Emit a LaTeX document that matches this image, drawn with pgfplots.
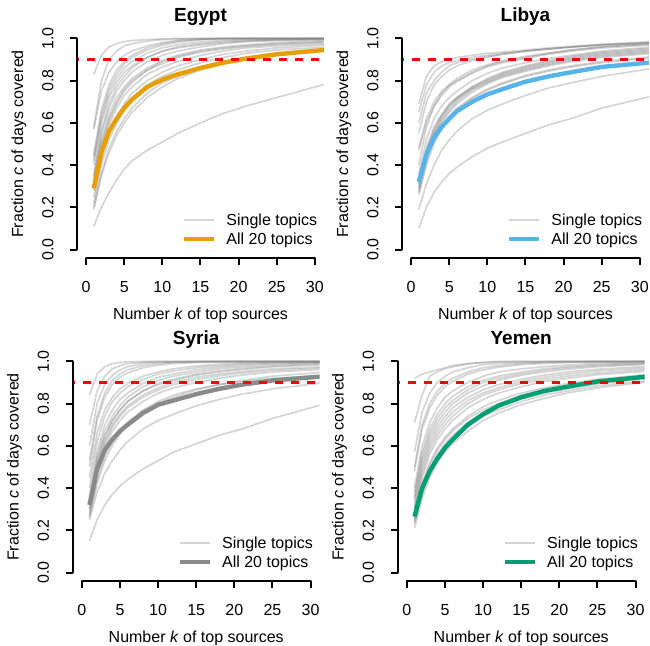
\documentclass[border=0pt]{standalone}
\usepackage{fontspec}
\setmainfont{Liberation Sans}
\usepackage{pgfplots}
\usepackage{pgfplotstable}
\pgfplotsset{compat=1.18}
\definecolor{cEgy}{HTML}{E69F00}
\definecolor{cLib}{HTML}{56B4E9}
\definecolor{cSyr}{HTML}{8A8A8A}
\definecolor{cYem}{HTML}{009E73}

\pgfplotstableread{
id 1 2 3 4 5 6 8 10 12 15 18 21 25 32
g1 0.83 0.92 0.96 0.975 0.985 0.99 0.995 0.998 1 1 1 1 1 1
g2 0.58 0.80 0.90 0.94 0.965 0.975 0.988 0.994 0.997 1 1 1 1 1
g3 0.45 0.66 0.78 0.85 0.89 0.92 0.955 0.975 0.988 0.996 1 1 1 1
g4 0.44 0.64 0.76 0.83 0.88 0.91 0.945 0.968 0.982 0.993 0.998 1 1 1
g5 0.40 0.60 0.72 0.79 0.84 0.87 0.91 0.94 0.96 0.975 0.985 0.99 0.995 1
g6 0.35 0.55 0.67 0.75 0.80 0.84 0.89 0.92 0.94 0.96 0.975 0.985 0.99 0.995
g7 0.33 0.52 0.64 0.72 0.77 0.81 0.86 0.895 0.92 0.945 0.96 0.97 0.98 0.99
g8 0.30 0.50 0.62 0.70 0.76 0.80 0.85 0.88 0.91 0.935 0.95 0.962 0.972 0.982
g9 0.28 0.47 0.59 0.67 0.73 0.77 0.83 0.865 0.89 0.92 0.94 0.955 0.965 0.975
g10 0.25 0.43 0.55 0.63 0.69 0.74 0.80 0.84 0.87 0.90 0.925 0.94 0.955 0.97
g11 0.22 0.40 0.52 0.60 0.66 0.71 0.78 0.82 0.85 0.885 0.91 0.93 0.945 0.96
g12 0.20 0.36 0.48 0.56 0.62 0.67 0.74 0.79 0.82 0.86 0.885 0.905 0.925 0.945
g13 0.19 0.35 0.46 0.54 0.60 0.65 0.72 0.77 0.81 0.85 0.88 0.90 0.92 0.945
g14 0.11 0.20 0.27 0.33 0.38 0.42 0.47 0.51 0.55 0.60 0.645 0.68 0.72 0.79
g15 0.57 0.75 0.84 0.89 0.92 0.94 0.965 0.98 0.99 0.997 1 1 1 1
g16 0.35 0.56 0.69 0.77 0.82 0.86 0.91 0.94 0.955 0.97 0.98 0.987 0.992 0.996
g17 0.42 0.62 0.74 0.81 0.86 0.89 0.93 0.955 0.97 0.983 0.99 0.995 0.998 1
g18 0.30 0.49 0.61 0.69 0.75 0.79 0.85 0.89 0.915 0.94 0.955 0.965 0.975 0.985
m 0.29 0.46 0.56 0.62 0.67 0.71 0.77 0.805 0.83 0.86 0.885 0.905 0.925 0.948
}\rawEgy
\pgfplotstableread{
id 1 2 3 4 5 6 8 10 12 15 18 21 25 32
g1 0.69 0.82 0.87 0.89 0.90 0.91 0.92 0.93 0.935 0.945 0.955 0.962 0.972 0.985
g2 0.65 0.78 0.84 0.87 0.885 0.895 0.91 0.92 0.93 0.94 0.95 0.958 0.968 0.98
g3 0.60 0.74 0.80 0.84 0.87 0.885 0.90 0.915 0.925 0.94 0.95 0.96 0.97 0.982
g4 0.48 0.62 0.70 0.75 0.78 0.80 0.84 0.87 0.89 0.91 0.93 0.945 0.96 0.975
g5 0.47 0.60 0.68 0.73 0.77 0.795 0.835 0.865 0.885 0.905 0.925 0.94 0.955 0.97
g6 0.33 0.48 0.58 0.64 0.69 0.72 0.77 0.81 0.84 0.87 0.895 0.915 0.935 0.955
g7 0.31 0.46 0.56 0.63 0.68 0.715 0.765 0.80 0.83 0.86 0.885 0.905 0.925 0.945
g8 0.30 0.45 0.55 0.62 0.67 0.71 0.76 0.795 0.825 0.855 0.88 0.90 0.92 0.94
g9 0.29 0.44 0.54 0.61 0.66 0.70 0.755 0.79 0.82 0.85 0.875 0.895 0.915 0.935
g10 0.28 0.43 0.53 0.60 0.65 0.69 0.745 0.785 0.815 0.845 0.87 0.89 0.91 0.93
g11 0.27 0.42 0.52 0.58 0.63 0.67 0.72 0.76 0.79 0.825 0.85 0.87 0.89 0.915
g12 0.19 0.31 0.40 0.47 0.52 0.56 0.62 0.66 0.69 0.73 0.765 0.79 0.82 0.86
g13 0.10 0.20 0.27 0.32 0.36 0.39 0.44 0.48 0.51 0.55 0.59 0.62 0.67 0.73
g14 0.40 0.58 0.68 0.74 0.78 0.81 0.85 0.875 0.895 0.915 0.93 0.945 0.96 0.975
g15 0.36 0.52 0.62 0.68 0.72 0.75 0.80 0.835 0.86 0.885 0.905 0.92 0.94 0.96
g16 0.55 0.70 0.78 0.82 0.85 0.87 0.895 0.91 0.925 0.94 0.95 0.96 0.97 0.98
g17 0.32 0.47 0.57 0.635 0.685 0.72 0.77 0.805 0.835 0.865 0.89 0.91 0.93 0.95
g18 0.26 0.40 0.50 0.57 0.62 0.66 0.715 0.755 0.785 0.82 0.845 0.865 0.885 0.91
m 0.32 0.45 0.53 0.58 0.62 0.655 0.70 0.735 0.76 0.795 0.82 0.84 0.865 0.888
}\rawLib
\pgfplotstableread{
id 1 2 3 4 5 6 8 10 12 15 18 21 25 32
g1 0.84 0.94 0.975 0.99 0.995 0.998 1 1 1 1 1 1 1 1
g2 0.70 0.86 0.93 0.965 0.98 0.99 0.996 1 1 1 1 1 1 1
g3 0.60 0.80 0.89 0.935 0.96 0.975 0.99 0.995 0.998 1 1 1 1 1
g4 0.53 0.74 0.85 0.91 0.94 0.96 0.98 0.99 0.995 0.998 1 1 1 1
g5 0.45 0.66 0.77 0.83 0.87 0.895 0.93 0.95 0.965 0.978 0.987 0.993 0.997 1
g6 0.40 0.62 0.74 0.81 0.85 0.88 0.915 0.94 0.955 0.97 0.98 0.988 0.994 0.998
g7 0.36 0.57 0.70 0.77 0.82 0.85 0.895 0.925 0.94 0.96 0.973 0.982 0.99 0.996
g8 0.34 0.55 0.67 0.74 0.79 0.83 0.88 0.91 0.93 0.95 0.965 0.975 0.985 0.993
g9 0.33 0.53 0.65 0.72 0.77 0.81 0.86 0.895 0.915 0.94 0.955 0.967 0.978 0.99
g10 0.30 0.50 0.62 0.70 0.75 0.79 0.84 0.875 0.90 0.925 0.94 0.952 0.965 0.975
g11 0.28 0.47 0.59 0.67 0.72 0.76 0.81 0.85 0.875 0.90 0.92 0.935 0.95 0.963
g12 0.27 0.44 0.55 0.62 0.67 0.71 0.77 0.81 0.84 0.87 0.89 0.905 0.92 0.935
g13 0.25 0.38 0.47 0.53 0.58 0.62 0.68 0.72 0.75 0.79 0.82 0.845 0.87 0.90
g14 0.15 0.25 0.32 0.37 0.41 0.44 0.49 0.53 0.57 0.61 0.65 0.68 0.73 0.80
g15 0.30 0.49 0.61 0.69 0.74 0.78 0.83 0.865 0.89 0.915 0.932 0.945 0.958 0.97
g16 0.50 0.72 0.83 0.89 0.925 0.945 0.97 0.982 0.99 0.995 0.998 1 1 1
g17 0.32 0.52 0.64 0.72 0.77 0.81 0.86 0.89 0.91 0.935 0.95 0.962 0.975 0.985
g18 0.26 0.42 0.53 0.60 0.655 0.70 0.76 0.80 0.83 0.865 0.89 0.91 0.93 0.95
m 0.32 0.49 0.58 0.63 0.67 0.70 0.755 0.795 0.815 0.845 0.87 0.89 0.91 0.93
}\rawSyr
\pgfplotstableread{
id 1 2 3 4 5 6 8 10 12 15 18 21 25 32
g1 0.92 0.94 0.95 0.96 0.97 0.98 0.99 0.995 1 1 1 1 1 1
g2 0.71 0.84 0.93 0.95 0.965 0.975 0.988 0.995 0.998 1 1 1 1 1
g3 0.57 0.76 0.85 0.90 0.93 0.95 0.97 0.985 0.99 0.995 0.998 1 1 1
g4 0.48 0.68 0.78 0.84 0.88 0.905 0.94 0.96 0.973 0.985 0.99 0.995 0.998 1
g5 0.40 0.60 0.71 0.78 0.83 0.86 0.90 0.93 0.95 0.965 0.975 0.983 0.99 0.996
g6 0.38 0.57 0.68 0.75 0.80 0.835 0.88 0.91 0.93 0.95 0.965 0.975 0.985 0.993
g7 0.35 0.53 0.64 0.71 0.76 0.80 0.85 0.885 0.91 0.935 0.95 0.963 0.975 0.987
g8 0.33 0.51 0.62 0.69 0.74 0.78 0.83 0.865 0.89 0.915 0.935 0.95 0.963 0.977
g9 0.30 0.47 0.58 0.65 0.70 0.74 0.80 0.84 0.865 0.895 0.915 0.93 0.945 0.963
g10 0.28 0.45 0.56 0.63 0.68 0.72 0.78 0.82 0.85 0.88 0.905 0.92 0.937 0.955
g11 0.26 0.42 0.52 0.59 0.64 0.68 0.74 0.785 0.815 0.85 0.875 0.895 0.915 0.94
g12 0.23 0.37 0.47 0.54 0.59 0.63 0.69 0.74 0.77 0.81 0.84 0.86 0.885 0.91
g13 0.21 0.35 0.45 0.52 0.57 0.61 0.67 0.72 0.755 0.795 0.825 0.85 0.875 0.905
g14 0.25 0.41 0.51 0.58 0.63 0.67 0.73 0.77 0.80 0.84 0.865 0.885 0.905 0.925
g15 0.36 0.55 0.66 0.73 0.78 0.815 0.865 0.90 0.92 0.942 0.958 0.97 0.98 0.99
g16 0.50 0.70 0.80 0.86 0.895 0.92 0.95 0.97 0.98 0.99 0.995 0.998 1 1
g17 0.31 0.49 0.60 0.67 0.72 0.76 0.815 0.85 0.875 0.905 0.925 0.94 0.955 0.97
g18 0.24 0.39 0.49 0.56 0.61 0.65 0.71 0.755 0.79 0.825 0.85 0.87 0.895 0.92
m 0.265 0.40 0.48 0.54 0.59 0.63 0.70 0.75 0.79 0.83 0.86 0.88 0.905 0.93
}\rawYem
\pgfplotstabletranspose[colnames from=id]\tabEgy{\rawEgy}
\pgfplotstabletranspose[colnames from=id]\tabLib{\rawLib}
\pgfplotstabletranspose[colnames from=id]\tabSyr{\rawSyr}
\pgfplotstabletranspose[colnames from=id]\tabYem{\rawYem}

\pgfplotsset{
  greyl/.style={draw=gray, opacity=0.33, line width=0.85pt, forget plot},
  panel/.style={
    width=123.5pt, height=114pt, scale only axis,
    anchor=south west,
    xmin=-1.2, xmax=31.2, ymin=-0.04, ymax=1.04,
    axis x line*=bottom, axis y line*=left,
    axis line style={draw=none},
    tick align=outside, major tick length=3.5pt,
    tick style={black, line width=1pt},
    xtick={0,5,10,15,20,25,30}, ytick={0,0.2,0.4,0.6,0.8,1},
    /pgf/number format/assume math mode=true,
    ticklabel style={font=\fontsize{8}{9.6}\selectfont},
    xticklabel style={anchor=base, yshift=-14pt},
    yticklabel style={xshift=-8.35pt, rotate=90, anchor=base,
      /pgf/number format/.cd, fixed, fixed zerofill, precision=1},
    label style={font=\fontsize{8}{9.6}\selectfont},
    xlabel={Number \textit{k} of top sources},
    ylabel={Fraction \textit{c} of days covered},
    xlabel style={at={(axis description cs:0.5,-0.2704)}, anchor=base},
    ylabel style={at={(axis description cs:-0.2185,0.5)}, anchor=base},
    every axis title/.style={at={(axis description cs:0.5,1.039)}, anchor=base,
      font=\bfseries\fontsize{9.5}{11}\selectfont},
    clip mode=individual,
    legend cell align=left,
    legend style={at={(axis description cs:0.4253,0.2062)}, anchor=north west,
      draw=none, fill=none, inner sep=0pt, outer sep=0pt, row sep=0pt,
      font=\fontsize{8}{9.6}\selectfont,
      nodes={inner sep=0pt, text height=7.485pt, text depth=1.765pt},
      /tikz/every odd column/.append style={column sep=5pt}},
    legend image code/.code={\draw[##1] (0pt,0pt) -- (15pt,0pt);},
    after end axis/.code={%
      \draw[line width=1pt, line cap=round] (axis cs:0,-0.04) -- (axis cs:30,-0.04);
      \draw[line width=1pt, line cap=round] (axis cs:-1.2,0) -- (axis cs:-1.2,1);},
  }
}
\newcommand\panel[4]{%
\begin{axis}[panel, at={#1}, title={#2}]
\pgfplotsinvokeforeach{1,...,18}{\addplot[greyl] table[x=colnames, y=g##1]{#3};}
\addplot[draw=#4, line width=2.2pt, forget plot] table[x=colnames, y=m]{#3};
\addplot[draw=red, line width=1.1pt, dash pattern=on 4pt off 4pt, forget plot] coordinates {(-2,0.9) (33,0.9)};
\addlegendimage{draw=gray, opacity=0.33, line width=0.85pt}
\addlegendentry{Single topics}
\addlegendimage{draw=#4, line width=2.2pt}
\addlegendentry{All 20 topics}
\end{axis}}

\begin{document}
\begin{tikzpicture}
\panel{(38.5pt,194pt)}{Egypt}{\tabEgy}{cEgy}
\panel{(201pt,194pt)}{Libya}{\tabLib}{cLib}
\panel{(36.35pt,32.5pt)}{Syria}{\tabSyr}{cSyr}
\panel{(198.85pt,32.5pt)}{Yemen}{\tabYem}{cYem}
\pgfresetboundingbox
\path (0,0) rectangle (325pt,323pt);
\end{tikzpicture}
\end{document}
